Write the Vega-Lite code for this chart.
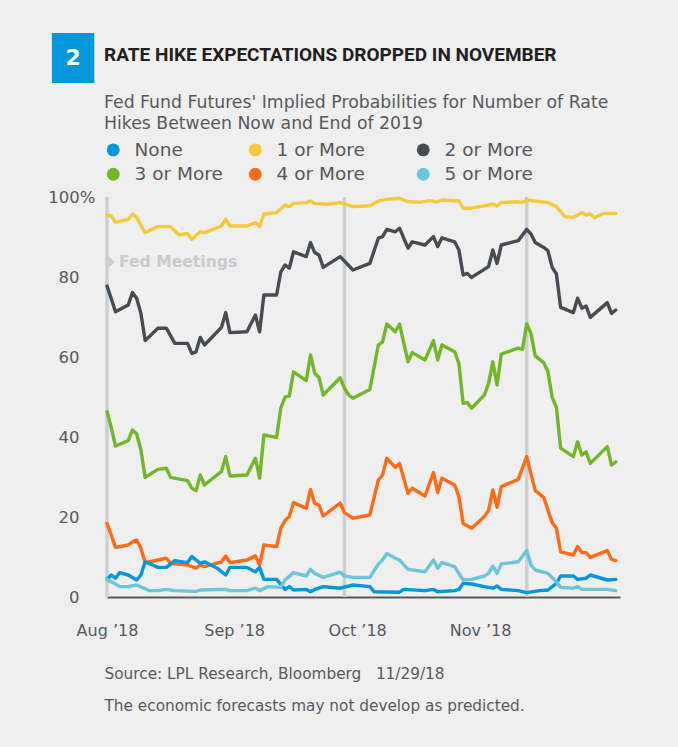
{
"$schema": "https://vega.github.io/schema/vega-lite/v6.json",
"autosize": {"type": "none"},
"width": 513, "height": 400,
"padding": {"left": 107, "top": 197, "right": 58, "bottom": 150},
"background": "#efefef",
"config": {"view": {"stroke": null}, "font": "DejaVu Sans"},
"title": {"text": "RATE HIKE EXPECTATIONS DROPPED IN NOVEMBER", "subtitle": ["Fed Fund Futures' Implied Probabilities for Number of Rate", "Hikes Between Now and End of 2019"], "anchor": "start", "frame": "group", "dx": -3, "offset": -99, "font": "Roboto", "fontSize": 19, "fontWeight": "bold", "color": "#231f20", "subtitleFont": "DejaVu Sans", "subtitleFontSize": 17.3, "subtitleColor": "#58595b", "subtitlePadding": 29, "subtitleLineHeight": 21},
"datasets": {
"meetings": [{"date": "2018-08-01"}, {"date": "2018-09-26"}, {"date": "2018-11-08"}],
"lines": [
{"date":"2018-08-01","series":"1 or More","value":95.5},{"date":"2018-08-02","series":"1 or More","value":95.25},{"date":"2018-08-03","series":"1 or More","value":93.7},{"date":"2018-08-06","series":"1 or More","value":94.4},{"date":"2018-08-07","series":"1 or More","value":95.7},{"date":"2018-08-08","series":"1 or More","value":94.9},{"date":"2018-08-10","series":"1 or More","value":91.1},{"date":"2018-08-13","series":"1 or More","value":92.6},{"date":"2018-08-16","series":"1 or More","value":92.6},{"date":"2018-08-18","series":"1 or More","value":90.5},{"date":"2018-08-20","series":"1 or More","value":90.9},{"date":"2018-08-21","series":"1 or More","value":89.4},{"date":"2018-08-23","series":"1 or More","value":91.3},{"date":"2018-08-24","series":"1 or More","value":91.1},{"date":"2018-08-28","series":"1 or More","value":92.75},{"date":"2018-08-29","series":"1 or More","value":94.4},{"date":"2018-08-30","series":"1 or More","value":92.75},{"date":"2018-09-03","series":"1 or More","value":92.75},{"date":"2018-09-05","series":"1 or More","value":93.6},{"date":"2018-09-06","series":"1 or More","value":92.6},{"date":"2018-09-07","series":"1 or More","value":95.75},{"date":"2018-09-10","series":"1 or More","value":96.1},{"date":"2018-09-12","series":"1 or More","value":98},{"date":"2018-09-13","series":"1 or More","value":97.6},{"date":"2018-09-14","series":"1 or More","value":98.4},{"date":"2018-09-17","series":"1 or More","value":98.6},{"date":"2018-09-18","series":"1 or More","value":99},{"date":"2018-09-19","series":"1 or More","value":98.4},{"date":"2018-09-22","series":"1 or More","value":98.2},{"date":"2018-09-25","series":"1 or More","value":98.6},{"date":"2018-09-28","series":"1 or More","value":97.6},{"date":"2018-10-02","series":"1 or More","value":97.8},{"date":"2018-10-04","series":"1 or More","value":99},{"date":"2018-10-06","series":"1 or More","value":99.4},{"date":"2018-10-09","series":"1 or More","value":99.7},{"date":"2018-10-11","series":"1 or More","value":98.8},{"date":"2018-10-14","series":"1 or More","value":98.7},{"date":"2018-10-16","series":"1 or More","value":99.1},{"date":"2018-10-18","series":"1 or More","value":98.8},{"date":"2018-10-19","series":"1 or More","value":99.25},{"date":"2018-10-23","series":"1 or More","value":99},{"date":"2018-10-24","series":"1 or More","value":97.2},{"date":"2018-10-26","series":"1 or More","value":97.2},{"date":"2018-10-29","series":"1 or More","value":97.8},{"date":"2018-10-31","series":"1 or More","value":98.25},{"date":"2018-11-01","series":"1 or More","value":97.75},{"date":"2018-11-02","series":"1 or More","value":98.6},{"date":"2018-11-06","series":"1 or More","value":98.8},{"date":"2018-11-07","series":"1 or More","value":98.6},{"date":"2018-11-08","series":"1 or More","value":99.25},{"date":"2018-11-13","series":"1 or More","value":98.6},{"date":"2018-11-15","series":"1 or More","value":97.6},{"date":"2018-11-17","series":"1 or More","value":95.1},{"date":"2018-11-19","series":"1 or More","value":94.9},{"date":"2018-11-21","series":"1 or More","value":96.1},{"date":"2018-11-22","series":"1 or More","value":95.5},{"date":"2018-11-23","series":"1 or More","value":95.75},{"date":"2018-11-24","series":"1 or More","value":94.8},{"date":"2018-11-26","series":"1 or More","value":95.9},{"date":"2018-11-29","series":"1 or More","value":95.9},
{"date":"2018-08-01","series":"2 or More","value":77.75},{"date":"2018-08-02","series":"2 or More","value":74.6},{"date":"2018-08-03","series":"2 or More","value":71.3},{"date":"2018-08-06","series":"2 or More","value":73},{"date":"2018-08-07","series":"2 or More","value":76.1},{"date":"2018-08-08","series":"2 or More","value":74.7},{"date":"2018-08-09","series":"2 or More","value":70.9},{"date":"2018-08-10","series":"2 or More","value":64.1},{"date":"2018-08-13","series":"2 or More","value":67.2},{"date":"2018-08-15","series":"2 or More","value":67.2},{"date":"2018-08-17","series":"2 or More","value":63.4},{"date":"2018-08-20","series":"2 or More","value":63.4},{"date":"2018-08-21","series":"2 or More","value":60.9},{"date":"2018-08-22","series":"2 or More","value":61.3},{"date":"2018-08-23","series":"2 or More","value":64.9},{"date":"2018-08-24","series":"2 or More","value":63},{"date":"2018-08-28","series":"2 or More","value":67.4},{"date":"2018-08-29","series":"2 or More","value":71.1},{"date":"2018-08-30","series":"2 or More","value":66.1},{"date":"2018-09-03","series":"2 or More","value":66.3},{"date":"2018-09-05","series":"2 or More","value":70.5},{"date":"2018-09-06","series":"2 or More","value":66.3},{"date":"2018-09-07","series":"2 or More","value":75.5},{"date":"2018-09-10","series":"2 or More","value":75.5},{"date":"2018-09-11","series":"2 or More","value":81.3},{"date":"2018-09-12","series":"2 or More","value":83},{"date":"2018-09-13","series":"2 or More","value":82.2},{"date":"2018-09-14","series":"2 or More","value":86.3},{"date":"2018-09-17","series":"2 or More","value":85.1},{"date":"2018-09-18","series":"2 or More","value":88.6},{"date":"2018-09-19","series":"2 or More","value":86.1},{"date":"2018-09-20","series":"2 or More","value":85.5},{"date":"2018-09-21","series":"2 or More","value":82.4},{"date":"2018-09-25","series":"2 or More","value":85.1},{"date":"2018-09-28","series":"2 or More","value":81.75},{"date":"2018-10-02","series":"2 or More","value":83.4},{"date":"2018-10-04","series":"2 or More","value":89.7},{"date":"2018-10-05","series":"2 or More","value":90.1},{"date":"2018-10-06","series":"2 or More","value":91.9},{"date":"2018-10-08","series":"2 or More","value":91.3},{"date":"2018-10-09","series":"2 or More","value":92.2},{"date":"2018-10-11","series":"2 or More","value":87.2},{"date":"2018-10-12","series":"2 or More","value":88.8},{"date":"2018-10-15","series":"2 or More","value":88},{"date":"2018-10-17","series":"2 or More","value":90.1},{"date":"2018-10-18","series":"2 or More","value":87.6},{"date":"2018-10-19","series":"2 or More","value":89.8},{"date":"2018-10-22","series":"2 or More","value":88.8},{"date":"2018-10-23","series":"2 or More","value":86.75},{"date":"2018-10-24","series":"2 or More","value":80.5},{"date":"2018-10-25","series":"2 or More","value":80.9},{"date":"2018-10-26","series":"2 or More","value":79.9},{"date":"2018-10-30","series":"2 or More","value":82.6},{"date":"2018-10-31","series":"2 or More","value":86.75},{"date":"2018-11-01","series":"2 or More","value":83.4},{"date":"2018-11-02","series":"2 or More","value":88},{"date":"2018-11-06","series":"2 or More","value":89.1},{"date":"2018-11-08","series":"2 or More","value":91.9},{"date":"2018-11-09","series":"2 or More","value":90.75},{"date":"2018-11-10","series":"2 or More","value":88.6},{"date":"2018-11-12","series":"2 or More","value":87.4},{"date":"2018-11-13","series":"2 or More","value":86.6},{"date":"2018-11-14","series":"2 or More","value":82.4},{"date":"2018-11-15","series":"2 or More","value":80.75},{"date":"2018-11-16","series":"2 or More","value":72.4},{"date":"2018-11-19","series":"2 or More","value":71.1},{"date":"2018-11-20","series":"2 or More","value":74.7},{"date":"2018-11-21","series":"2 or More","value":72.2},{"date":"2018-11-22","series":"2 or More","value":72.75},{"date":"2018-11-23","series":"2 or More","value":69.9},{"date":"2018-11-27","series":"2 or More","value":73.6},{"date":"2018-11-28","series":"2 or More","value":70.9},{"date":"2018-11-29","series":"2 or More","value":71.75},
{"date":"2018-08-01","series":"3 or More","value":46.3},{"date":"2018-08-02","series":"3 or More","value":42.4},{"date":"2018-08-03","series":"3 or More","value":37.75},{"date":"2018-08-06","series":"3 or More","value":39.1},{"date":"2018-08-07","series":"3 or More","value":41.75},{"date":"2018-08-08","series":"3 or More","value":40.75},{"date":"2018-08-09","series":"3 or More","value":36.75},{"date":"2018-08-10","series":"3 or More","value":29.9},{"date":"2018-08-13","series":"3 or More","value":31.9},{"date":"2018-08-15","series":"3 or More","value":32.2},{"date":"2018-08-16","series":"3 or More","value":29.9},{"date":"2018-08-20","series":"3 or More","value":29.1},{"date":"2018-08-21","series":"3 or More","value":27.2},{"date":"2018-08-22","series":"3 or More","value":26.6},{"date":"2018-08-23","series":"3 or More","value":30.5},{"date":"2018-08-24","series":"3 or More","value":28},{"date":"2018-08-28","series":"3 or More","value":31.4},{"date":"2018-08-29","series":"3 or More","value":35.1},{"date":"2018-08-30","series":"3 or More","value":30.25},{"date":"2018-09-03","series":"3 or More","value":30.5},{"date":"2018-09-05","series":"3 or More","value":34.7},{"date":"2018-09-06","series":"3 or More","value":29.7},{"date":"2018-09-07","series":"3 or More","value":40.5},{"date":"2018-09-10","series":"3 or More","value":39.9},{"date":"2018-09-11","series":"3 or More","value":47.3},{"date":"2018-09-12","series":"3 or More","value":50},{"date":"2018-09-13","series":"3 or More","value":50.2},{"date":"2018-09-14","series":"3 or More","value":56.3},{"date":"2018-09-17","series":"3 or More","value":54.1},{"date":"2018-09-18","series":"3 or More","value":60.5},{"date":"2018-09-19","series":"3 or More","value":55.9},{"date":"2018-09-20","series":"3 or More","value":54.9},{"date":"2018-09-21","series":"3 or More","value":50.5},{"date":"2018-09-25","series":"3 or More","value":54.8},{"date":"2018-09-26","series":"3 or More","value":52.2},{"date":"2018-09-27","series":"3 or More","value":50.5},{"date":"2018-09-28","series":"3 or More","value":49.7},{"date":"2018-10-02","series":"3 or More","value":51.9},{"date":"2018-10-04","series":"3 or More","value":63},{"date":"2018-10-05","series":"3 or More","value":63.8},{"date":"2018-10-06","series":"3 or More","value":68.25},{"date":"2018-10-08","series":"3 or More","value":66.3},{"date":"2018-10-09","series":"3 or More","value":68.25},{"date":"2018-10-11","series":"3 or More","value":58.8},{"date":"2018-10-12","series":"3 or More","value":61.1},{"date":"2018-10-15","series":"3 or More","value":59.25},{"date":"2018-10-17","series":"3 or More","value":64.1},{"date":"2018-10-18","series":"3 or More","value":59.25},{"date":"2018-10-19","series":"3 or More","value":63},{"date":"2018-10-22","series":"3 or More","value":61.3},{"date":"2018-10-23","series":"3 or More","value":58.4},{"date":"2018-10-24","series":"3 or More","value":48.4},{"date":"2018-10-25","series":"3 or More","value":48.6},{"date":"2018-10-26","series":"3 or More","value":47.2},{"date":"2018-10-29","series":"3 or More","value":50.5},{"date":"2018-10-30","series":"3 or More","value":53.4},{"date":"2018-10-31","series":"3 or More","value":58.8},{"date":"2018-11-01","series":"3 or More","value":53},{"date":"2018-11-02","series":"3 or More","value":60.75},{"date":"2018-11-06","series":"3 or More","value":62.2},{"date":"2018-11-07","series":"3 or More","value":61.9},{"date":"2018-11-08","series":"3 or More","value":68.25},{"date":"2018-11-09","series":"3 or More","value":65.9},{"date":"2018-11-10","series":"3 or More","value":60.3},{"date":"2018-11-12","series":"3 or More","value":58.6},{"date":"2018-11-13","series":"3 or More","value":56.3},{"date":"2018-11-14","series":"3 or More","value":49.9},{"date":"2018-11-15","series":"3 or More","value":47.4},{"date":"2018-11-16","series":"3 or More","value":37.2},{"date":"2018-11-19","series":"3 or More","value":35.1},{"date":"2018-11-20","series":"3 or More","value":38.8},{"date":"2018-11-21","series":"3 or More","value":35.5},{"date":"2018-11-22","series":"3 or More","value":36.3},{"date":"2018-11-23","series":"3 or More","value":33.4},{"date":"2018-11-27","series":"3 or More","value":37.6},{"date":"2018-11-28","series":"3 or More","value":33},{"date":"2018-11-29","series":"3 or More","value":33.8},
{"date":"2018-08-01","series":"4 or More","value":18.4},{"date":"2018-08-02","series":"4 or More","value":15.5},{"date":"2018-08-03","series":"4 or More","value":12.4},{"date":"2018-08-06","series":"4 or More","value":13},{"date":"2018-08-07","series":"4 or More","value":13.8},{"date":"2018-08-08","series":"4 or More","value":14.25},{"date":"2018-08-09","series":"4 or More","value":12.2},{"date":"2018-08-10","series":"4 or More","value":8.6},{"date":"2018-08-13","series":"4 or More","value":9.25},{"date":"2018-08-15","series":"4 or More","value":9.7},{"date":"2018-08-16","series":"4 or More","value":8.4},{"date":"2018-08-20","series":"4 or More","value":8},{"date":"2018-08-22","series":"4 or More","value":7.2},{"date":"2018-08-23","series":"4 or More","value":8},{"date":"2018-08-24","series":"4 or More","value":7.6},{"date":"2018-08-28","series":"4 or More","value":8.8},{"date":"2018-08-29","series":"4 or More","value":10.25},{"date":"2018-08-30","series":"4 or More","value":8.6},{"date":"2018-09-03","series":"4 or More","value":9.25},{"date":"2018-09-05","series":"4 or More","value":10.3},{"date":"2018-09-06","series":"4 or More","value":8},{"date":"2018-09-07","series":"4 or More","value":13},{"date":"2018-09-10","series":"4 or More","value":12.6},{"date":"2018-09-11","series":"4 or More","value":17.2},{"date":"2018-09-12","series":"4 or More","value":19.1},{"date":"2018-09-13","series":"4 or More","value":20.1},{"date":"2018-09-14","series":"4 or More","value":23.6},{"date":"2018-09-17","series":"4 or More","value":22.2},{"date":"2018-09-18","series":"4 or More","value":26.9},{"date":"2018-09-19","series":"4 or More","value":23.4},{"date":"2018-09-20","series":"4 or More","value":23},{"date":"2018-09-21","series":"4 or More","value":20.25},{"date":"2018-09-25","series":"4 or More","value":23.5},{"date":"2018-09-26","series":"4 or More","value":21.1},{"date":"2018-09-28","series":"4 or More","value":19.7},{"date":"2018-10-02","series":"4 or More","value":20.5},{"date":"2018-10-04","series":"4 or More","value":29.25},{"date":"2018-10-05","series":"4 or More","value":30.5},{"date":"2018-10-06","series":"4 or More","value":34.7},{"date":"2018-10-08","series":"4 or More","value":32.4},{"date":"2018-10-09","series":"4 or More","value":33.4},{"date":"2018-10-11","series":"4 or More","value":25.9},{"date":"2018-10-12","series":"4 or More","value":27.2},{"date":"2018-10-15","series":"4 or More","value":25.25},{"date":"2018-10-17","series":"4 or More","value":31.1},{"date":"2018-10-18","series":"4 or More","value":26.1},{"date":"2018-10-19","series":"4 or More","value":29.7},{"date":"2018-10-22","series":"4 or More","value":28},{"date":"2018-10-23","series":"4 or More","value":25.1},{"date":"2018-10-24","series":"4 or More","value":18.4},{"date":"2018-10-26","series":"4 or More","value":17.2},{"date":"2018-10-29","series":"4 or More","value":20.1},{"date":"2018-10-30","series":"4 or More","value":21.6},{"date":"2018-10-31","series":"4 or More","value":26.75},{"date":"2018-11-01","series":"4 or More","value":22.4},{"date":"2018-11-02","series":"4 or More","value":27.6},{"date":"2018-11-06","series":"4 or More","value":29.4},{"date":"2018-11-08","series":"4 or More","value":35.1},{"date":"2018-11-10","series":"4 or More","value":26.6},{"date":"2018-11-12","series":"4 or More","value":24.9},{"date":"2018-11-14","series":"4 or More","value":18.6},{"date":"2018-11-15","series":"4 or More","value":17.2},{"date":"2018-11-16","series":"4 or More","value":11.3},{"date":"2018-11-19","series":"4 or More","value":10.5},{"date":"2018-11-20","series":"4 or More","value":12.6},{"date":"2018-11-21","series":"4 or More","value":11.1},{"date":"2018-11-22","series":"4 or More","value":11.1},{"date":"2018-11-23","series":"4 or More","value":9.9},{"date":"2018-11-27","series":"4 or More","value":11.6},{"date":"2018-11-28","series":"4 or More","value":9.4},{"date":"2018-11-29","series":"4 or More","value":9.1},
{"date":"2018-08-01","series":"None","value":4.4},{"date":"2018-08-02","series":"None","value":5.5},{"date":"2018-08-03","series":"None","value":4.7},{"date":"2018-08-04","series":"None","value":6.1},{"date":"2018-08-06","series":"None","value":5.5},{"date":"2018-08-08","series":"None","value":4.25},{"date":"2018-08-09","series":"None","value":5.5},{"date":"2018-08-10","series":"None","value":8.8},{"date":"2018-08-13","series":"None","value":7.4},{"date":"2018-08-15","series":"None","value":7.4},{"date":"2018-08-17","series":"None","value":9.1},{"date":"2018-08-20","series":"None","value":8.6},{"date":"2018-08-21","series":"None","value":10.1},{"date":"2018-08-23","series":"None","value":8.4},{"date":"2018-08-24","series":"None","value":8.8},{"date":"2018-08-27","series":"None","value":7.2},{"date":"2018-08-29","series":"None","value":5.5},{"date":"2018-08-30","series":"None","value":7.4},{"date":"2018-09-03","series":"None","value":7.4},{"date":"2018-09-05","series":"None","value":6.3},{"date":"2018-09-06","series":"None","value":7.4},{"date":"2018-09-07","series":"None","value":4.4},{"date":"2018-09-10","series":"None","value":4.4},{"date":"2018-09-12","series":"None","value":1.9},{"date":"2018-09-13","series":"None","value":2.6},{"date":"2018-09-14","series":"None","value":1.75},{"date":"2018-09-17","series":"None","value":1.9},{"date":"2018-09-18","series":"None","value":1.3},{"date":"2018-09-19","series":"None","value":1.9},{"date":"2018-09-21","series":"None","value":2.6},{"date":"2018-09-25","series":"None","value":2.2},{"date":"2018-09-28","series":"None","value":3},{"date":"2018-10-02","series":"None","value":2.6},{"date":"2018-10-03","series":"None","value":1.3},{"date":"2018-10-09","series":"None","value":1.2},{"date":"2018-10-10","series":"None","value":1.9},{"date":"2018-10-15","series":"None","value":1.6},{"date":"2018-10-17","series":"None","value":1.9},{"date":"2018-10-18","series":"None","value":1.3},{"date":"2018-10-22","series":"None","value":1.6},{"date":"2018-10-23","series":"None","value":1.9},{"date":"2018-10-24","series":"None","value":3.4},{"date":"2018-10-26","series":"None","value":3.25},{"date":"2018-10-29","series":"None","value":2.6},{"date":"2018-10-31","series":"None","value":2.2},{"date":"2018-11-01","series":"None","value":2.75},{"date":"2018-11-02","series":"None","value":1.9},{"date":"2018-11-06","series":"None","value":1.6},{"date":"2018-11-08","series":"None","value":1.1},{"date":"2018-11-11","series":"None","value":1.6},{"date":"2018-11-13","series":"None","value":1.75},{"date":"2018-11-15","series":"None","value":3.4},{"date":"2018-11-16","series":"None","value":5.25},{"date":"2018-11-19","series":"None","value":5.25},{"date":"2018-11-20","series":"None","value":4.4},{"date":"2018-11-22","series":"None","value":4.7},{"date":"2018-11-23","series":"None","value":5.5},{"date":"2018-11-27","series":"None","value":4.25},{"date":"2018-11-29","series":"None","value":4.4},
{"date":"2018-08-01","series":"5 or More","value":4.4},{"date":"2018-08-03","series":"5 or More","value":3.25},{"date":"2018-08-04","series":"5 or More","value":2.6},{"date":"2018-08-06","series":"5 or More","value":2.6},{"date":"2018-08-08","series":"5 or More","value":3},{"date":"2018-08-11","series":"5 or More","value":1.6},{"date":"2018-08-13","series":"5 or More","value":1.6},{"date":"2018-08-15","series":"5 or More","value":1.9},{"date":"2018-08-17","series":"5 or More","value":1.6},{"date":"2018-08-22","series":"5 or More","value":1.4},{"date":"2018-08-23","series":"5 or More","value":1.75},{"date":"2018-08-29","series":"5 or More","value":1.9},{"date":"2018-08-30","series":"5 or More","value":1.6},{"date":"2018-09-03","series":"5 or More","value":1.6},{"date":"2018-09-05","series":"5 or More","value":2.2},{"date":"2018-09-06","series":"5 or More","value":1.6},{"date":"2018-09-08","series":"5 or More","value":2.6},{"date":"2018-09-11","series":"5 or More","value":2.4},{"date":"2018-09-12","series":"5 or More","value":4.25},{"date":"2018-09-14","series":"5 or More","value":6.1},{"date":"2018-09-17","series":"5 or More","value":5.25},{"date":"2018-09-18","series":"5 or More","value":6.9},{"date":"2018-09-19","series":"5 or More","value":5.9},{"date":"2018-09-21","series":"5 or More","value":4.9},{"date":"2018-09-25","series":"5 or More","value":6.2},{"date":"2018-09-26","series":"5 or More","value":5.25},{"date":"2018-09-28","series":"5 or More","value":4.9},{"date":"2018-10-02","series":"5 or More","value":4.9},{"date":"2018-10-04","series":"5 or More","value":8.25},{"date":"2018-10-05","series":"5 or More","value":9.25},{"date":"2018-10-06","series":"5 or More","value":10.9},{"date":"2018-10-08","series":"5 or More","value":9.7},{"date":"2018-10-09","series":"5 or More","value":9.25},{"date":"2018-10-11","series":"5 or More","value":6.9},{"date":"2018-10-15","series":"5 or More","value":6.3},{"date":"2018-10-17","series":"5 or More","value":9.25},{"date":"2018-10-18","series":"5 or More","value":7.2},{"date":"2018-10-19","series":"5 or More","value":8.6},{"date":"2018-10-22","series":"5 or More","value":7.6},{"date":"2018-10-23","series":"5 or More","value":5.9},{"date":"2018-10-24","series":"5 or More","value":4.25},{"date":"2018-10-26","series":"5 or More","value":4.4},{"date":"2018-10-29","series":"5 or More","value":5.25},{"date":"2018-10-30","series":"5 or More","value":5.9},{"date":"2018-10-31","series":"5 or More","value":7.75},{"date":"2018-11-01","series":"5 or More","value":5.9},{"date":"2018-11-02","series":"5 or More","value":8.25},{"date":"2018-11-06","series":"5 or More","value":8.8},{"date":"2018-11-08","series":"5 or More","value":11.6},{"date":"2018-11-09","series":"5 or More","value":8},{"date":"2018-11-10","series":"5 or More","value":6.75},{"date":"2018-11-13","series":"5 or More","value":5.9},{"date":"2018-11-15","series":"5 or More","value":3.8},{"date":"2018-11-16","series":"5 or More","value":2.4},{"date":"2018-11-19","series":"5 or More","value":2.2},{"date":"2018-11-20","series":"5 or More","value":2.6},{"date":"2018-11-21","series":"5 or More","value":1.9},{"date":"2018-11-27","series":"5 or More","value":1.9},{"date":"2018-11-29","series":"5 or More","value":1.6}
]
},
"layer": [
{"data": {"name": "meetings"}, "mark": {"type": "rule", "color": "#cdd0d3", "strokeWidth": 3.5},
 "encoding": {"x": {"field": "date", "type": "temporal"}}},
{"data": {"name": "lines"}, "mark": {"type": "line", "strokeWidth": 3.4, "strokeJoin": "round", "strokeCap": "round"},
 "encoding": {
  "x": {"field": "date", "type": "temporal",
   "scale": {"domain": [{"year": 2018, "month": 8, "date": 1, "utc": true}, {"year": 2018, "month": 11, "date": 30, "utc": true}]},
   "axis": {"values": [{"year": 2018, "month": 8, "date": 1, "utc": true}, {"year": 2018, "month": 8, "date": 31, "utc": true}, {"year": 2018, "month": 9, "date": 29, "utc": true}, {"year": 2018, "month": 10, "date": 28, "utc": true}],
    "labelExpr": "utcFormat(datum.value + 1296000000, '%b ’%y')",
    "grid": false, "ticks": false, "tickSize": 0, "domainColor": "#58595b", "domainWidth": 2,
    "labelFontSize": 16, "labelColor": "#58595b", "labelPadding": 25, "labelFlush": false,
    "title": ["Source: LPL Research, Bloomberg\u00a0\u00a0\u00a011/29/18", "The economic forecasts may not develop as predicted."],
    "titleAnchor": "start", "titleAlign": "left", "titleBaseline": "alphabetic", "titleX": -3, "titleY": 81,
    "titleFontSize": 15.3, "titleFontWeight": "normal", "titleColor": "#58595b", "titleLineHeight": 32}},
  "y": {"field": "value", "type": "quantitative", "scale": {"domain": [0, 100], "nice": false},
   "axis": {"values": [0, 20, 40, 60, 80, 100], "labelExpr": "datum.value == 100 ? '100%' : datum.label",
    "domain": false, "ticks": false, "tickSize": 0, "grid": false, "title": null,
    "labelFontSize": 16.5, "labelColor": "#58595b", "labelAlign": "right", "labelBaseline": "middle",
    "labelPadding": {"condition": {"test": "datum.value == 100", "value": 12}, "value": 28}}},
  "color": {"field": "series", "type": "nominal",
   "scale": {"domain": ["None", "1 or More", "2 or More", "3 or More", "4 or More", "5 or More"], "range": ["#0098da", "#f5c93e", "#474c52", "#74b629", "#ff6b15", "#6fc5d8"]},
   "legend": {"orient": "none", "legendX": -3, "legendY": -56.5, "direction": "horizontal", "columns": 3, "title": null,
    "symbolType": "circle", "symbolSize": 165, "symbolStrokeWidth": 0, "labelFontSize": 18.5, "labelColor": "#58595b",
    "labelOffset": 12, "columnPadding": 23, "rowPadding": 5.5,
    "labelExpr": "(datum.label == '1 or More' || datum.label == '4 or More') ? datum.label + '\u00a0\u00a0\u2800' : datum.label",
    "encode": {"symbols": {"update": {"fill": {"scale": "color", "field": "value"}, "strokeWidth": {"value": 0}}}}}}
 }},
{"data": {"values": [{}]}, "mark": {"type": "point", "shape": "M0,-1L1.15,0L0,1Z", "filled": true, "color": "#cdd0d3", "size": 196, "opacity": 1},
 "encoding": {"x": {"datum": {"year": 2018, "month": 8, "date": 1, "utc": true}, "type": "temporal"}, "y": {"datum": 83.75, "type": "quantitative"}}},
{"data": {"values": [{}]}, "mark": {"type": "text", "text": "Fed Meetings", "align": "left", "baseline": "middle", "dx": 12, "fontSize": 15.6, "fontWeight": "bold", "color": "#c8cbcf"},
 "encoding": {"x": {"datum": {"year": 2018, "month": 8, "date": 1, "utc": true}, "type": "temporal"}, "y": {"datum": 83.75, "type": "quantitative"}}},
{"data": {"values": [{}]}, "mark": {"type": "rect", "color": "#0098da"},
 "encoding": {"x": {"datum": {"year": 2018, "month": 7, "date": 19, "utc": true}, "type": "temporal"}, "x2": {"datum": {"year": 2018, "month": 7, "date": 29, "utc": true}}, "y": {"datum": 141, "type": "quantitative"}, "y2": {"datum": 128.5}}},
{"data": {"values": [{}]}, "mark": {"type": "text", "text": "2", "align": "center", "baseline": "middle", "fontSize": 22, "fontWeight": "bold", "color": "#ffffff"},
 "encoding": {"x": {"datum": {"year": 2018, "month": 7, "date": 24, "utc": true}, "type": "temporal"}, "y": {"datum": 134.75, "type": "quantitative"}}}
]
}
